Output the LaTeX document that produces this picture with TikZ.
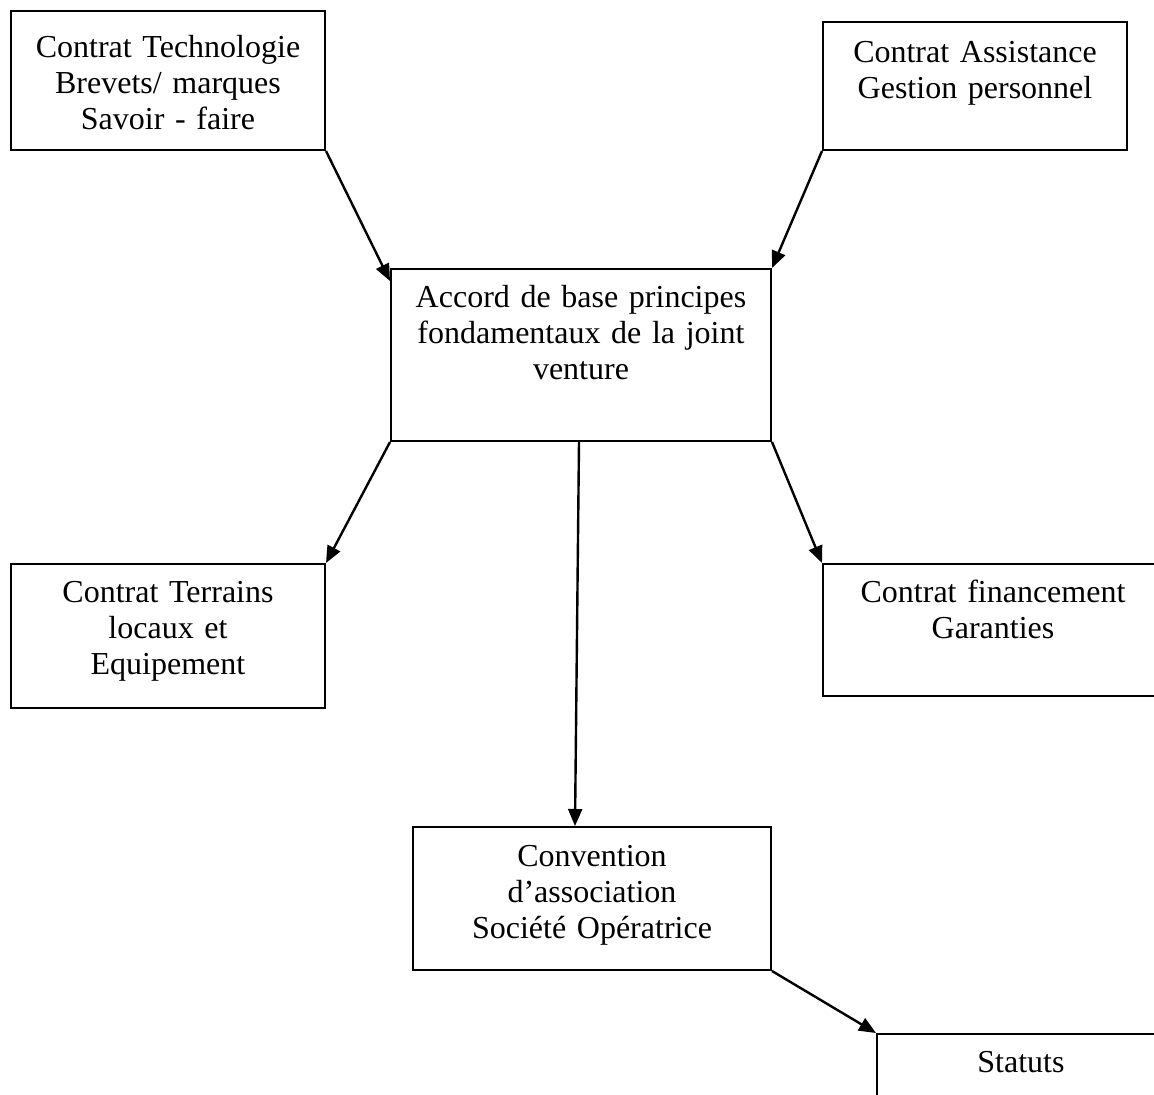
\documentclass[tikz,border=0pt]{standalone}
\usepackage{fontspec}
\setmainfont{Liberation Serif}
\usetikzlibrary{arrows.meta}
\begin{document}
\begin{tikzpicture}[x=1pt,y=-1pt,
  box/.style={draw,line width=2pt,rectangle,inner sep=0pt},
  txt/.style={anchor=base,align=center,text width=360pt,inner sep=0pt,font=\fontsize{32}{36}\selectfont},
  arr/.style={line width=2.4pt,-{Triangle[length=17pt,width=14pt]}}]
\useasboundingbox[fill=white] (0,0) rectangle (1154,1095);
\clip (0,0) rectangle (1154,1095);
\node[box,minimum width=314pt,minimum height=139.5pt] (tech) at (168,80.25) {};
\node[box,minimum width=304pt,minimum height=128pt] (assist) at (975,86) {};
\node[box,minimum width=380pt,minimum height=172pt] (accord) at (581,355) {};
\node[box,minimum width=314pt,minimum height=144pt] (terr) at (168,636) {};
\node[box,minimum width=340pt,minimum height=132pt] (fin) at (993,630) {};
\node[box,minimum width=358pt,minimum height=143pt] (conv) at (592,898.5) {};
\node[box,minimum width=288pt,minimum height=146pt] (stat) at (1021,1107) {};
\node[txt] (techt) at ([yshift=-47.8pt]tech.north) {Contrat Technologie\\Brevets/ marques\\Savoir - faire};
\node[txt] (assistt) at ([yshift=-41pt]assist.north) {Contrat Assistance\\Gestion personnel};
\node[txt] (accordt) at ([yshift=-39pt]accord.north) {Accord de base principes\\fondamentaux de la joint\\venture};
\node[txt] (terrt) at ([yshift=-39pt]terr.north) {Contrat Terrains\\locaux et\\Equipement};
\node[txt] (fint) at ([yshift=-39pt]fin.north) {Contrat financement\\Garanties};
\node[txt] (convt) at ([yshift=-40pt]conv.north) {Convention\\d’association\\Société Opératrice};
\node[txt] (statt) at ([yshift=-39pt]stat.north) {Statuts};
\draw[arr] (tech.south east) -- ([yshift=-13pt]accord.north west);
\draw[arr] (assist.south west) -- (accord.north east);
\draw[arr] (accord.south west) -- (terr.north east);
\draw[arr] (accord.south east) -- (fin.north west);
\draw[arr] ([xshift=-2pt]accord.south) -- ([xshift=-17pt]conv.north);
\draw[arr] (conv.south east) -- (stat.north west);
\end{tikzpicture}
\end{document}
